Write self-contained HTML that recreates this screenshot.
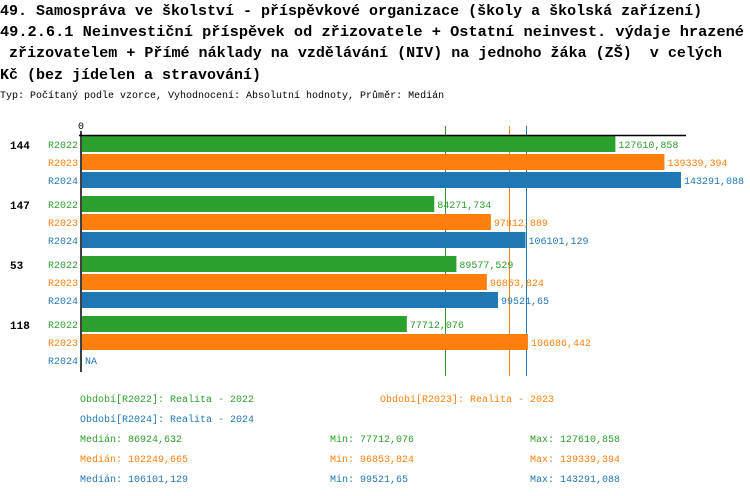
<!DOCTYPE html>
<html><head><meta charset="utf-8"><style>
html,body{margin:0;padding:0;background:#fff;}
svg{display:block;font-family:"Liberation Mono",monospace;}
</style></head><body>
<svg id="c" width="750" height="496" xmlns="http://www.w3.org/2000/svg">
<g font-size="15" font-weight="bold" fill="#000">
<text x="0" y="15">49. Samospráva ve školství - příspěvkové organizace (školy a školská zařízení)</text>
<text x="0" y="36" textLength="744" lengthAdjust="spacingAndGlyphs">49.2.6.1 Neinvestiční příspěvek od zřizovatele + Ostatní neinvest. výdaje hrazené</text>
<text x="0" y="57" xml:space="preserve" textLength="722" lengthAdjust="spacingAndGlyphs"> zřizovatelem + Přímé náklady na vzdělávání (NIV) na jednoho žáka (ZŠ)  v celých</text>
<text x="0" y="79">Kč (bez jídelen a stravování)</text>
</g>
<text x="0" y="98" font-size="10" fill="#000">Typ: Počítaný podle vzorce, Vyhodnocení: Absolutní hodnoty, Průměr: Medián</text>
<g id="medlines"></g>
<g id="plot"></g>
<g id="foot" font-size="10"></g>
</svg>
<script>
const groups = ["144","147","53","118"];
const series = ["R2022","R2023","R2024"];
const colors = ["#2ca02c","#ff7f0e","#1f77b4"];
const v2022 = [127610.858, 84271.734, 89577.529, 77712.076];
const v2023 = [139339.394, 97812.889, 96853.824, 106686.442];
const v2024 = [143291.088, 106101.129, 99521.65, null];
const labels2022 = ["127610,858","84271,734","89577,529","77712,076"];
const labels2023 = ["139339,394","97812,889","96853,824","106686,442"];
const labels2024 = ["143291,088","106101,129","99521,65","NA"];
const medians = [86924.632, 102249.665, 106101.129];
const footRows = [
 ["Medián: 86924,632","Min: 77712,076","Max: 127610,858"],
 ["Medián: 102249,665","Min: 96853,824","Max: 139339,394"],
 ["Medián: 106101,129","Min: 99521,65","Max: 143291,088"]
];
const NS="http://www.w3.org/2000/svg";
const X0=81, SCALE=0.00418;
const xs=v=>X0+1+v*SCALE;
const plot=document.getElementById('plot');
const med=document.getElementById('medlines');
function mk(tag,attrs,parent){const e=document.createElementNS(NS,tag);for(const k in attrs)e.setAttribute(k,attrs[k]);parent.appendChild(e);return e;}
const vals=[v2022,v2023,v2024], labs=[labels2022,labels2023,labels2024];
medians.forEach((m,i)=>{
  const px=Math.round(xs(m))+0.5;
  const l=mk('line',{x1:px,x2:px,y1:126,y2:376,stroke:colors[i],'stroke-width':1},med);
  
  
});
groups.forEach((g,gi)=>{
  const gy=136+gi*60;
  const t=mk('text',{x:10,y:gy+13,'font-size':11,'font-weight':'bold',fill:'#000'},plot);
  t.textContent=g;
  
  
  series.forEach((s,si)=>{
    const y=gy+si*18;
    const st=mk('text',{x:78,y:y+12,'font-size':10,fill:colors[si],'text-anchor':'end'},plot);
    st.textContent=s;
    
    
    const v=vals[si][gi];
    let end=X0+1;
    if(v!=null){
      const r=mk('rect',{x:X0+1,y:y,width:xs(v)-X0-1,height:16,fill:colors[si]},plot);
      
      
      end=xs(v);
    }
    const vt=mk('text',{x:end+3,y:y+12,'font-size':10,fill:colors[si]},plot);
    vt.textContent=labs[si][gi];
    
    
  });
});
const topLine=mk('line',{x1:X0-2,x2:686,y1:135.5,y2:135.5,stroke:'#000','stroke-width':1.5},plot);


const ax=mk('line',{x1:X0,x2:X0,y1:131,y2:372,stroke:'#000','stroke-width':1.5},plot);


const z=mk('text',{x:X0,y:129,'font-size':10,fill:'#000','text-anchor':'middle'},plot);
z.textContent='0';


const foot=document.getElementById('foot');
const leg=[["Období[R2022]: Realita - 2022",80,402,0],["Období[R2023]: Realita - 2023",380,402,1],["Období[R2024]: Realita - 2024",80,422,2]];
leg.forEach(a=>{const t=mk('text',{x:a[1],y:a[2],fill:colors[a[3]]},foot);t.textContent=a[0];

});
const cx=[80,330,530];
footRows.forEach((row,ri)=>row.forEach((s,ci)=>{const t=mk('text',{x:cx[ci],y:442+ri*20,fill:colors[ri]},foot);t.textContent=s;

}));
</script>
</body></html>
